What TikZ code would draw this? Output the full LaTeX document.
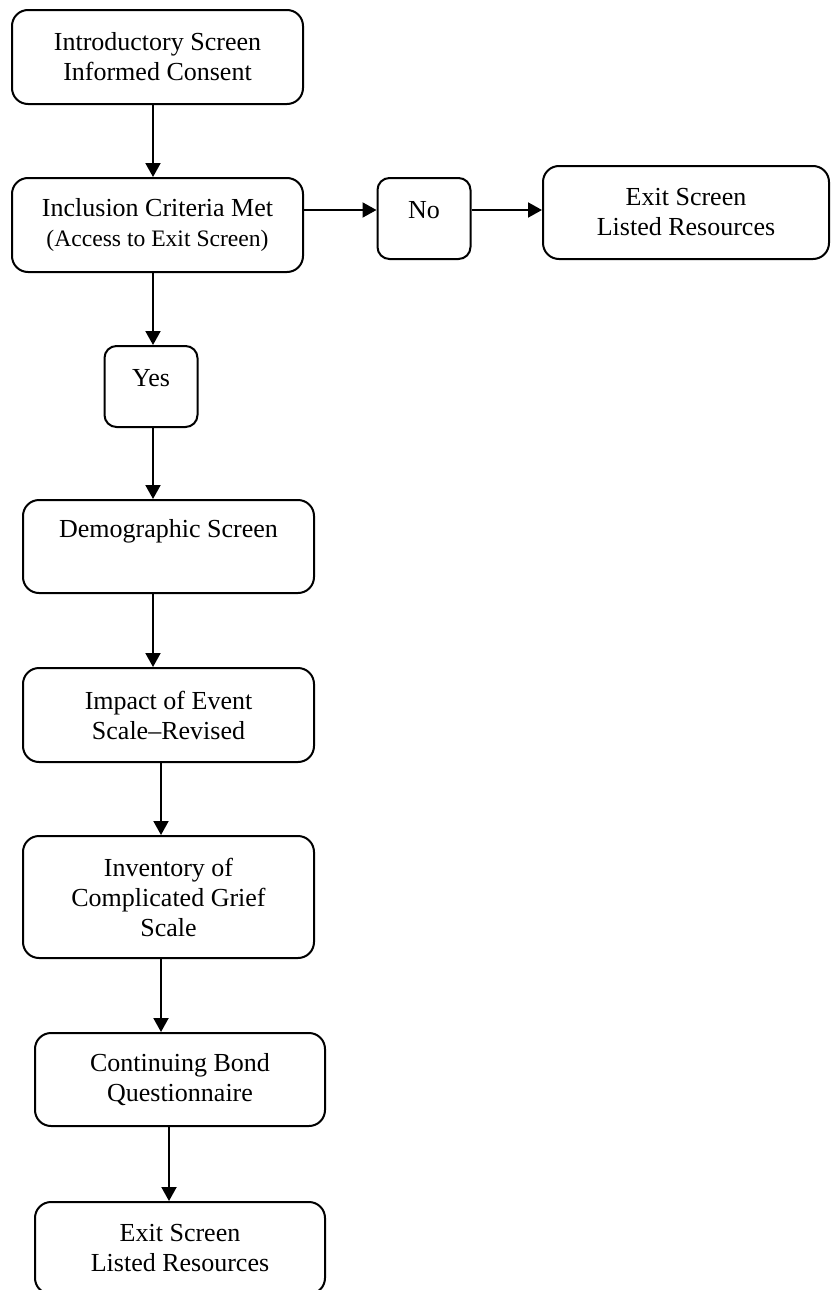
\documentclass[tikz,border=0pt]{standalone}
\usepackage{fontspec}
\setmainfont{Liberation Serif}
\usetikzlibrary{positioning,arrows.meta}

\begin{document}
\begin{tikzpicture}[
      x=0.5pt, y=-0.5pt,
      font=\fontsize{13}{15}\selectfont,
      scr/.style={draw, line width=1pt, rounded corners=8pt, align=center,
                  inner sep=0pt, minimum width=145.5pt, minimum height=47pt},
      ans/.style={scr, rounded corners=6pt, minimum width=46.5pt,
                  minimum height=40.5pt, text depth=9pt},
      arr/.style={-{Triangle[length=7pt, width=7.5pt]}, line width=1pt}
    ]
    \useasboundingbox (0,0) rectangle (831,1290);
    \clip (0,0) rectangle (831,1290);

    % top and branch
    \node[scr] (intro) at (157.5,57) {Introductory Screen\\Informed Consent};
    \node[scr] (incl) at (157.5,225) {Inclusion Criteria Met\\{\fontsize{11.8}{15}\selectfont (Access to Exit Screen)}};
    \node[ans] (no) at (424,218.5) {No};
    \node[scr, minimum width=143pt, minimum height=46.5pt] (exitR) at (686,212.5) {Exit Screen\\Listed Resources};
    \node[ans] (yes) at (151,386.5) {Yes};

    % survey screens
    \node[scr, minimum height=46.5pt, text depth=17.8pt] (demo) at (168.5,546.5) {Demographic Screen};
    \node[scr] (ies) at (168.5,715) {Impact of Event\\Scale--Revised};
    \node[scr, minimum height=61pt] (icg) at (168.5,897) {Inventory of\\Complicated Grief\\Scale};
    \node[scr, minimum width=145pt, minimum height=46.5pt] (cbq) at (180,1079.5) {Continuing Bond\\Questionnaire};
    \node[scr, minimum width=145pt, minimum height=46pt] (exitB) at (180,1248) {Exit Screen\\Listed Resources};

    \draw[arr] ([xshift=-2.25pt]intro.south) -- ([xshift=-2.25pt]incl.north);
    \draw[arr] ([yshift=7.5pt]incl.east) -- ([yshift=7.5pt]incl.east -| no.west);
    \draw[arr] ([yshift=4.25pt]no.east) -- ([yshift=4.25pt]no.east -| exitR.west);
    \draw[arr] ([xshift=-2.25pt]incl.south) -- ([xshift=-2.25pt]incl.south |- yes.north);
    \draw[arr] ([xshift=1pt]yes.south) -- ([xshift=1pt]yes.south |- demo.north);
    \draw[arr] ([xshift=-7.75pt]demo.south) -- ([xshift=-7.75pt]ies.north);
    \draw[arr] ([xshift=-3.75pt]ies.south) -- ([xshift=-3.75pt]icg.north);
    \draw[arr] ([xshift=-3.75pt]icg.south) -- ([xshift=-3.75pt]icg.south |- cbq.north);
    \draw[arr] ([xshift=-5.5pt]cbq.south) -- ([xshift=-5.5pt]exitB.north);
  \end{tikzpicture}
\end{document}
